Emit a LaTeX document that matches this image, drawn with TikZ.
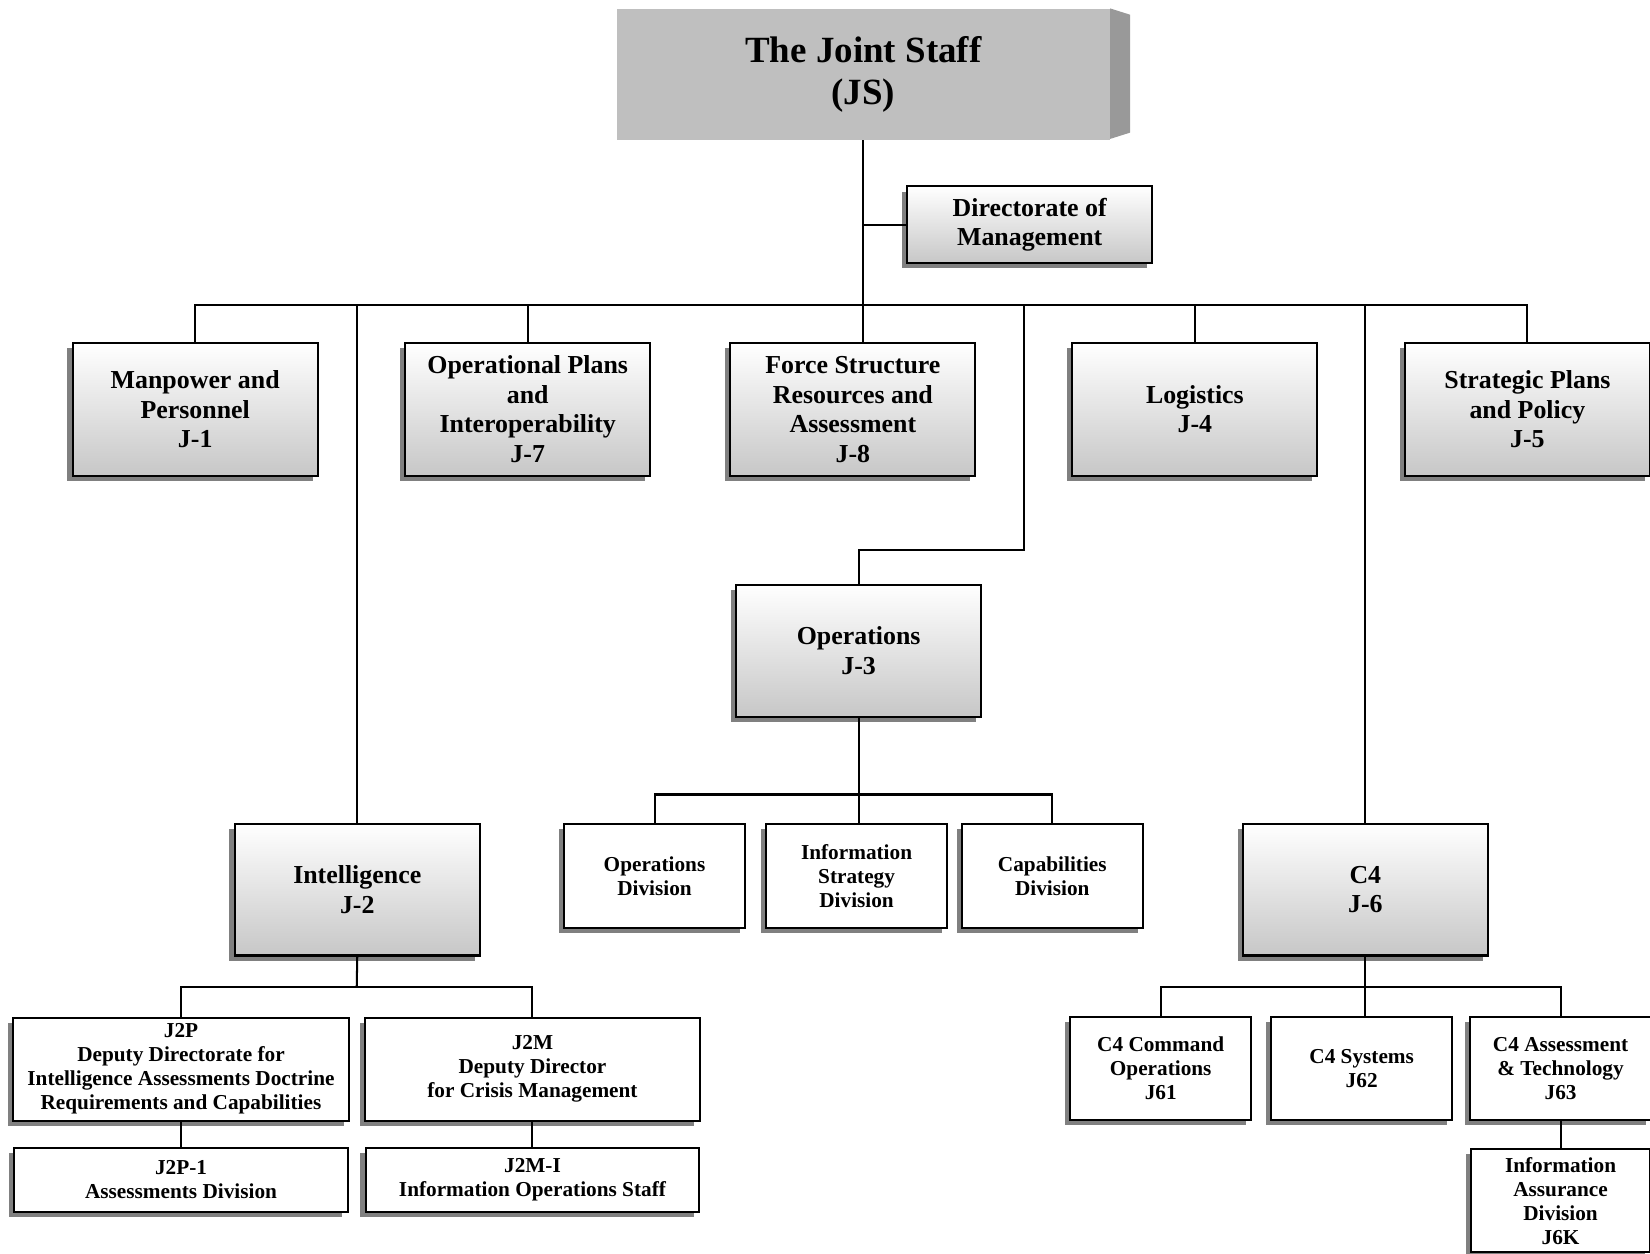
\documentclass[tikz,border=0pt]{standalone}
\usepackage{fontspec}
\setmainfont{Liberation Serif}
\usetikzlibrary{shadows,calc}

\tikzset{
  unit/.style={draw, line width=1.1pt, align=center, inner sep=0pt, font=\bfseries,
    drop shadow={shadow xshift=-0.1cm, shadow yshift=-0.1cm, opacity=1, fill=black!50}},
  bigunit/.style={unit, top color=white, bottom color=black!22, minimum width=4.66cm, minimum height=2.52cm,
    font=\bfseries\fontsize{14}{16}\selectfont},
  subunit/.style={unit, fill=white, font=\bfseries\fontsize{11.5}{13}\selectfont},
  link/.style={line width=1.1pt}
}

\begin{document}
\begin{tikzpicture}[x=0.02cm, y=-0.02cm]
\useasboundingbox (0,0) rectangle (1568,1191);
% top box with its side face
\fill[black!40] (1055,8) -- (1074,14) -- (1074,126) -- (1055,132) -- cycle;
\node[fill=black!25, minimum width=9.38cm, minimum height=2.48cm, align=center, inner sep=0pt,
  font=\bfseries\fontsize{20}{22.8}\selectfont] (js) at (820.5,71) {The Joint Staff\\(JS)};
\node[bigunit, minimum height=1.46cm] (dom) at (978.5,213.5) {Directorate of\\Management};
% first row
\foreach \nm/\x/\txt in {j1/185.5/{Manpower and\\Personnel\\J-1},
  j7/501.5/{Operational Plans\\and\\Interoperability\\J-7},
  j8/810.5/{Force Structure\\Resources and\\Assessment\\J-8},
  j4/1135.5/{Logistics\\J-4},
  j5/1451.5/{Strategic Plans\\and Policy\\J-5}}
  \node[bigunit] (\nm) at (\x,389) {\txt};
\node[bigunit, minimum height=2.5cm] (ops) at (816,618.5) {Operations\\J-3};
\node[bigunit, minimum height=2.5cm] (int) at (339.5,845.5) {Intelligence\\J-2};
\node[bigunit, minimum height=2.5cm] (c4) at (1297.5,845.5) {C4\\J-6};
% J-3 divisions
\foreach \nm/\x/\txt in {opdiv/622/{Operations\\Division}, isdiv/814/{Information\\Strategy\\Division},
  capdiv/1000/{Capabilities\\Division}}
  \node[subunit, minimum width=3.44cm, minimum height=1.98cm] (\nm) at (\x,832.5) {\txt};
% J-2 deputies
\node[subunit, minimum width=6.38cm, minimum height=1.96cm] (j2p) at (172,1016)
  {J2P\\Deputy Directorate for\\Intelligence Assessments Doctrine\\Requirements and Capabilities};
\node[subunit, minimum width=6.36cm, minimum height=1.96cm] (j2m) at (506,1016)
  {J2M\\Deputy Director\\for Crisis Management};
\node[subunit, minimum width=6.34cm, minimum height=1.22cm] (j2p1) at (172,1121) {J2P-1\\Assessments Division};
\node[subunit, minimum width=6.34cm, minimum height=1.22cm] (j2mi) at (506,1121) {J2M-I\\Information Operations Staff};
% J-6 divisions
\foreach \nm/\x/\txt in {j61/1103/{C4 Command\\Operations\\J61}, j62/1294/{C4 Systems\\J62},
  j63/1483/{C4 Assessment\\\& Technology\\J63}}
  \node[subunit, minimum width=3.44cm, minimum height=1.96cm] (\nm) at (\x,1015) {\txt};
\node[subunit, minimum width=3.4cm, minimum height=1.96cm] (j6k) at (1483,1141)
  {Information\\Assurance\\Division\\J6K};
% connectors
\coordinate (bus) at (821,290);
\coordinate (opsbend) at (973,523);
\coordinate (opsbus) at (816,755);
\coordinate (intbus) at (339,938);
\coordinate (c4bus) at (1298,938);
\draw[link] (js.south) -- (js.south |- j8.north);
\draw[link] (dom.west) -- (dom.west -| js.south);
\draw[link] (j1.north) |- (bus) -| (j5.north);
\foreach \nm in {j7,j4} \draw[link] (\nm.north) -- (\nm.north |- bus);
\draw[link] (int.north) -- (int.north |- bus);
\draw[link] (c4.north) -- (c4.north |- bus);
\draw[link] (opsbend |- bus) -- (opsbend) -| (ops.north);
\draw[link] (ops.south) -- (ops.south |- isdiv.north);
\draw[link] (opdiv.north) |- (opsbus) -| (capdiv.north);
\draw[link] (int.south) -- (intbus);
\draw[link] (j2p.north) |- (intbus) -| (j2m.north);
\draw[link] (j2p.south) -- (j2p1.north);
\draw[link] (j2m.south) -- (j2mi.north);
\draw[link] (c4.south) -- (c4.south |- j62.north);
\draw[link] (j61.north) |- (c4bus) -| (j63.north);
\draw[link] (j63.south) -- (j6k.north);
\end{tikzpicture}
\end{document}
